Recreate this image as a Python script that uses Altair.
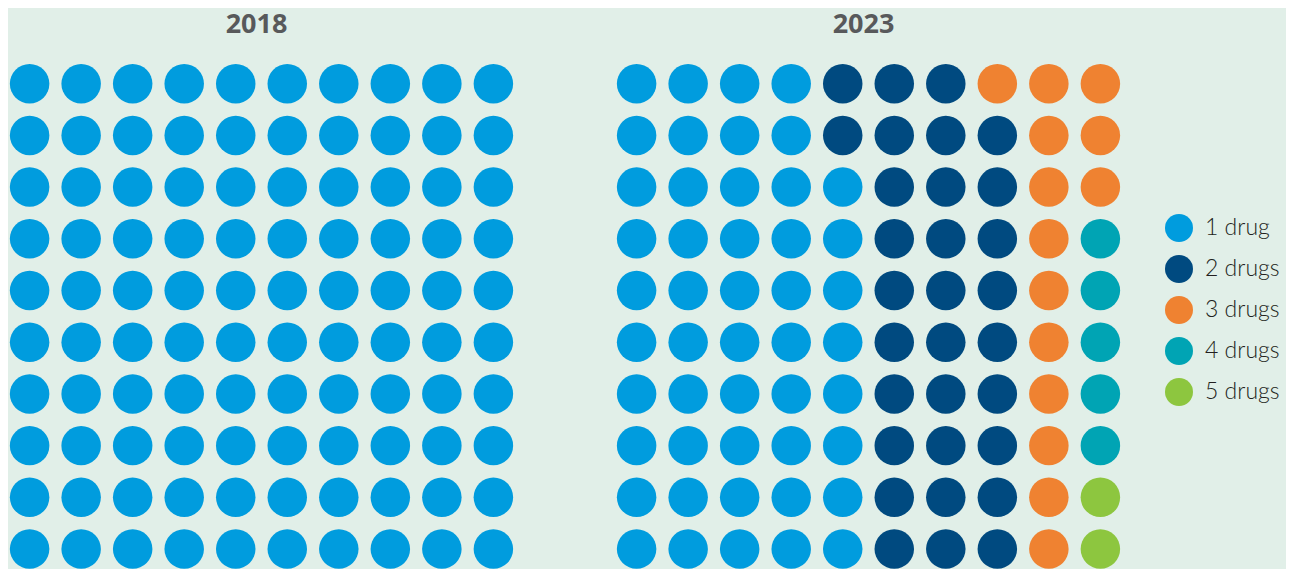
import altair as alt
import pandas as pd

categories = ["1 drug", "2 drugs", "3 drugs", "4 drugs", "5 drugs"]
colors = ["#009cde", "#004a80", "#ef8231", "#00a4b4", "#8dc63f"]
years = ["2018", "2023"]

# Grid rows from top to bottom; each digit = number of drugs (category index + 1)
grid_2018 = [
    "1111111111",
    "1111111111",
    "1111111111",
    "1111111111",
    "1111111111",
    "1111111111",
    "1111111111",
    "1111111111",
    "1111111111",
    "1111111111",
]
grid_2023 = [
    "1111222333",
    "1111222233",
    "1111122233",
    "1111122234",
    "1111122234",
    "1111122234",
    "1111122234",
    "1111122234",
    "1111122235",
    "1111122235",
]


def cells(grid, year):
    return pd.DataFrame(
        [{"year": year, "col": c, "row": r, "drugs": categories[int(ch) - 1]}
         for r, line in enumerate(grid) for c, ch in enumerate(line)]
    )


def waffle(df, title):
    return alt.Chart(df).mark_circle(size=1560, opacity=1).encode(
        x=alt.X("col:Q", scale=alt.Scale(domain=[-0.4, 9.4], nice=False, zero=False), axis=None),
        y=alt.Y("row:Q", scale=alt.Scale(domain=[-0.4, 9.27], nice=False, zero=False, reverse=True), axis=None),
        color=alt.Color(
            "drugs:N",
            scale=alt.Scale(domain=categories, range=colors),
            legend=alt.Legend(
                title=None, orient="none", legendX=1155, legendY=150,
                symbolType="circle", symbolSize=784, symbolOpacity=1,
                labelFont="Lato", labelFontSize=23, labelFontWeight=300,
                labelColor="#231f20", labelOffset=11, rowPadding=12,
            ),
        ),
    ).properties(
        width=505, height=500,
        title=alt.TitleParams(title, font="Open Sans", fontSize=27, fontWeight="bold",
                              color="#58595b", anchor="middle", dx=-5, offset=24),
    )


chart = alt.hconcat(
    waffle(cells(grid_2018, years[0]), years[0]),
    waffle(cells(grid_2023, years[1]), years[1]),
    spacing=102,
).properties(
    padding={"left": 1, "top": 3, "right": 6, "bottom": 0},
    background="#e1efe8",
).configure_view(stroke=None)

chart.save("out.html", embed_options={"renderer": "svg", "actions": False})
